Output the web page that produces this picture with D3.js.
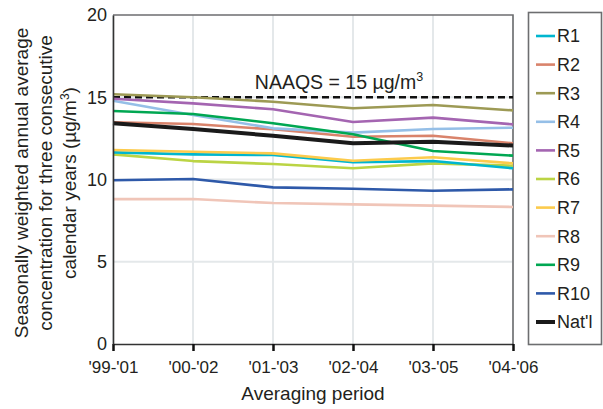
<!DOCTYPE html>
<html><head><meta charset="utf-8">
<script src="https://cdn.jsdelivr.net/npm/d3@7"></script>
<style>
body{margin:0;background:#fff;}
svg text{font-family:"Liberation Sans Narrow","Arial Narrow","Liberation Sans",sans-serif;fill:#231f20;}
</style></head>
<body><svg id="c" width="603" height="409"></svg>
<script>
const periods = ["'99-'01","'00-'02","'01-'03","'02-'04","'03-'05","'04-'06"];
const seriesNames = ["R1","R2","R3","R4","R5","R6","R7","R8","R9","R10","Nat'l"];
const seriesColors = ["#00b6cf","#d9836b","#9d9a55","#95bfe7","#a465b1","#bbd444","#fccb4c","#f0c5b8","#00a752","#2e59a9","#1a1a1a"];
const R1 = [11.65,11.53,11.49,11.05,11.12,10.68];
const R2 = [13.48,13.37,13.05,12.6,12.66,12.2];
const R3 = [15.18,15.0,14.73,14.33,14.53,14.2];
const R4 = [14.79,13.92,13.11,12.85,13.07,13.15];
const R5 = [14.91,14.63,14.27,13.5,13.76,13.35];
const R6 = [11.53,11.12,10.94,10.68,10.98,10.84];
const R7 = [11.79,11.69,11.59,11.14,11.35,10.98];
const R8 = [8.81,8.81,8.57,8.49,8.41,8.33];
const R9 = [14.16,13.98,13.42,12.75,11.73,11.45];
const R10 = [9.95,10.03,9.52,9.44,9.32,9.4];
const NATL = [13.42,13.07,12.66,12.2,12.3,12.06];
const seriesValues = [R1,R2,R3,R4,R5,R6,R7,R8,R9,R10,NATL];
const yTicks = [0,5,10,15,20];
const naaqs = 15;

const svg = d3.select("#c");
const L=113, R=513, T=15, B=344;
const x = d3.scalePoint().domain(periods).range([L,R]);
const y = d3.scaleLinear().domain([0,20]).range([B,T]);

// grid
svg.append("g").selectAll("line").data(periods).join("line")
  .attr("x1",d=>x(d)).attr("x2",d=>x(d)).attr("y1",T).attr("y2",B)
  .attr("stroke","#e4e8ea").attr("stroke-width",2);
svg.append("g").selectAll("line").data(yTicks.filter(v=>v>0&&v<20)).join("line")
  .attr("x1",L).attr("x2",R).attr("y1",d=>y(d)).attr("y2",d=>y(d))
  .attr("stroke","#e4e8ea").attr("stroke-width",2);

// frame top/right
svg.append("path").attr("d",`M${L},${T}H${R}V${B}`).attr("fill","none")
  .attr("stroke","#6d6e70").attr("stroke-width",1.6);

// NAAQS
svg.append("line").attr("x1",L).attr("x2",R).attr("y1",y(naaqs)).attr("y2",y(naaqs))
  .attr("stroke","#111").attr("stroke-width",2.5).attr("stroke-dasharray","7,4");
const nt = svg.append("text").attr("x",339).attr("y",89).attr("text-anchor","middle")
  .attr("font-size",19.5);
nt.append("tspan").text("NAAQS = 15 µg/m");
nt.append("tspan").attr("font-size",12.5).attr("dy",-8).text("3");

// lines
const line = d3.line().x((d,i)=>x(periods[i])).y(d=>y(d));
const order = [7,9,5,0,6,1,3,8,4,2,10];
svg.append("g").selectAll("path").data(order).join("path")
  .attr("d",i=>line(seriesValues[i])).attr("fill","none")
  .attr("stroke",i=>seriesColors[i]).attr("stroke-width",i=>i===10?4:2.6)
  .attr("stroke-linejoin","round");

// axes
const xa = svg.append("g").attr("transform",`translate(0,${B})`)
  .call(d3.axisBottom(x).tickSize(7).tickSizeOuter(0).tickPadding(6));
xa.select(".domain").attr("stroke","#333").attr("stroke-width",1.6);
xa.selectAll(".tick line").attr("stroke","#111").attr("stroke-width",2.5);
xa.selectAll("text").attr("font-size",17).attr("font-family",null).attr("dy","0.95em");
const ya = svg.append("g").attr("transform",`translate(${L},0)`)
  .call(d3.axisLeft(y).tickValues(yTicks).tickSize(0).tickPadding(6));
ya.select(".domain").attr("stroke","#333").attr("stroke-width",1.6);
ya.selectAll("text").attr("font-size",18).attr("font-family",null);

svg.append("text").attr("x",313).attr("y",400).attr("text-anchor","middle")
  .attr("font-size",19).text("Averaging period");

const yt = svg.append("text").attr("transform","translate(0,183) rotate(-90)")
  .attr("text-anchor","middle").attr("font-size",19);
yt.append("tspan").attr("x",0).attr("y",28).text("Seasonally weighted annual average");
yt.append("tspan").attr("x",0).attr("y",52).text("concentration for three consecutive");
const l3 = yt.append("tspan").attr("x",0).attr("y",76);
l3.append("tspan").text("calendar years (µg/m");
l3.append("tspan").attr("font-size",12).attr("dy",-7).text("3");
l3.append("tspan").attr("dy",7).text(")");

// legend
svg.append("rect").attr("x",528.5).attr("y",12.5).attr("width",73).attr("height",332)
  .attr("fill","none").attr("stroke","#6d6e70").attr("stroke-width",1.6);
const lg = svg.append("g").selectAll("g").data(seriesNames).join("g")
  .attr("transform",(d,i)=>`translate(0,${36+i*28.6})`);
lg.append("line").attr("x1",536).attr("x2",555).attr("stroke",(d,i)=>seriesColors[i])
  .attr("stroke-width",(d,i)=>i===10?4:2.6);
lg.append("text").attr("x",557).attr("y",0).attr("dy","0.36em").attr("font-size",18).text(d=>d);
</script></body></html>
